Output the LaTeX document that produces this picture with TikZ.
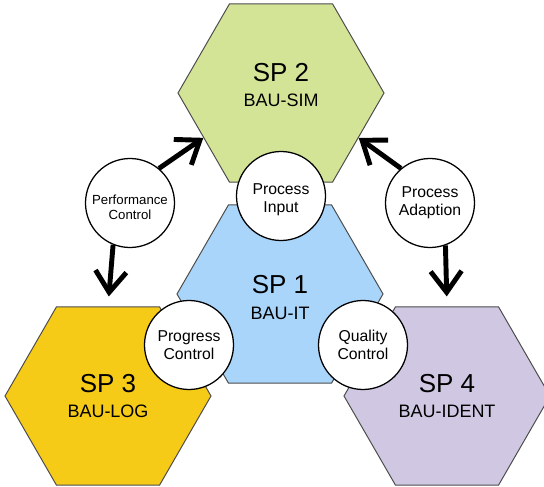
\documentclass[tikz,border=0pt]{standalone}
\usepackage{fontspec}
\setmainfont{Liberation Sans}
\usetikzlibrary{shapes.geometric,arrows.meta}
\definecolor{simgreen}{HTML}{D4E497}
\definecolor{itblue}{HTML}{A9D5FB}
\definecolor{logyellow}{HTML}{F6CB17}
\definecolor{identlilac}{HTML}{D0C8E2}
\begin{document}
\begin{tikzpicture}[
        hexa/.style={regular polygon, regular polygon sides=6, minimum size=5.15cm,
            inner sep=0pt, draw=black!70, line width=0.7pt, align=center,
            font=\fontsize{18.5}{18}\selectfont},
        ctrl/.style={circle, draw, fill=white, line width=0.9pt, minimum size=2.225cm,
            inner sep=0pt, align=center, font=\fontsize{11.2}{12.8}\selectfont},
        link/.style={line width=3.5pt, -{Straight Barb[length=15pt,width=22pt]}}
    ]
        \useasboundingbox (0,0) rectangle (13.6,12.15);
        % sub projects
        \node[hexa, fill=simgreen, text depth=11pt] (sp2) at (7.025,9.825) {SP 2\\{\fontsize{12.8}{14}\selectfont BAU-SIM}};
        \node[hexa, fill=itblue, text height=36pt] (sp1) at (7,4.8) {SP 1\\{\fontsize{12.8}{14}\selectfont BAU-IT}};
        \node[hexa, fill=logyellow] (sp3) at (2.7,2.25) {SP 3\\{\fontsize{12.8}{14}\selectfont BAU-LOG}};
        \node[hexa, fill=identlilac] (sp4) at (11.175,2.25) {SP 4\\{\fontsize{12.8}{14}\selectfont BAU-IDENT}};
        % interfaces
        \node[ctrl, text height=26pt] (input) at (7.025,7.25) {Process\\Input};
        \node[ctrl, font=\fontsize{9.4}{10.2}\selectfont, text height=23pt] (perf) at (3.25,7.075) {Performance\\Control};
        \node[ctrl] (adapt) at (10.75,7.075) {Process\\Adaption};
        \node[ctrl] (progress) at (4.725,3.525) {Progress\\Control};
        \node[ctrl] (quality) at (9.075,3.525) {Quality\\Control};
        \draw[link] (perf.50) -- (sp2.210);
        \draw[link, shorten >=7pt] (perf.248) -- (sp3.90);
        \draw[link] (adapt.130) -- (sp2.330);
        \draw[link, shorten >=7pt] (adapt.290) -- (sp4.90);
    \end{tikzpicture}
\end{document}
